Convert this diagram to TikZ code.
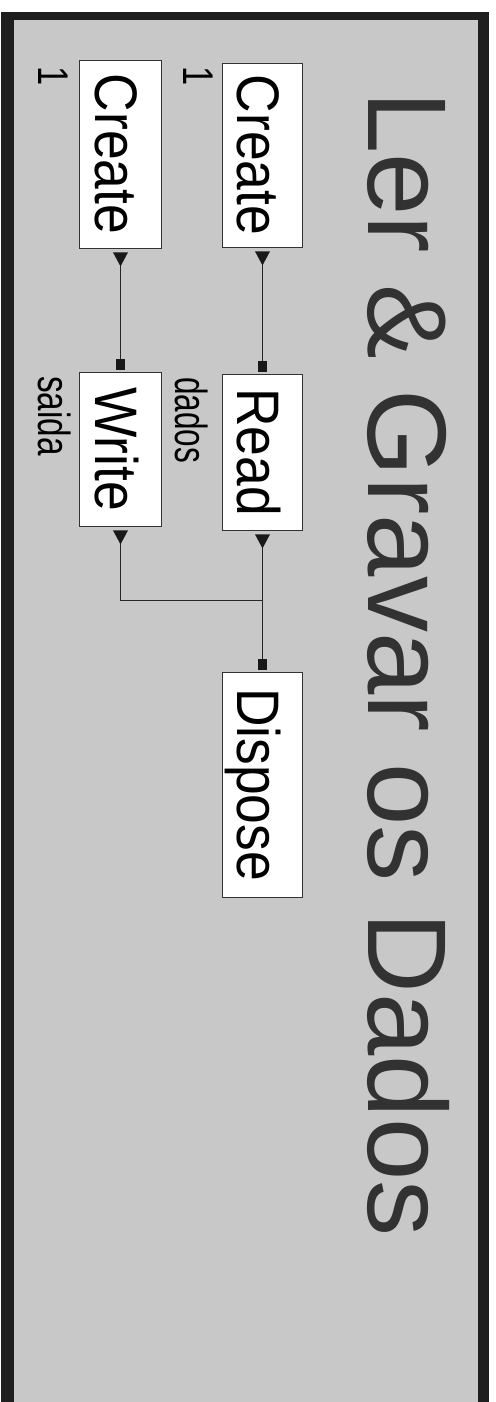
\documentclass[tikz,border=0pt]{standalone}
\usepackage{fontspec}
\usepackage{graphicx}
\setmainfont{Liberation Sans}
\definecolor{bggray}{RGB}{200,200,200}
\definecolor{titlegray}{RGB}{50,50,50}
\newcommand{\boxtxt}[1]{\rotatebox{-90}{\rule{0pt}{50pt}\smash{\scalebox{0.89}[1]{#1}}}}
\begin{document}
\begin{tikzpicture}[x=1pt,y=1pt,
  procbox/.style={draw=black!80, line width=0.8pt, fill=white, inner sep=0pt,
    font=\fontsize{60}{60}\selectfont},
  smalllbl/.style={rotate=-90, anchor=base west, inner sep=0pt,
    font=\fontsize{45}{45}\selectfont},
  conn/.style={draw=black!85, line width=0.9pt},
  tipfill/.style={fill=black!90}
]
\useasboundingbox (0,0) rectangle (495,-1402);
% frame
\fill[white] (0,0) rectangle (495,-1402);
\fill[black!88] (1,-12) rectangle (489,-1402);
\fill[bggray] (14,-20) rectangle (478,-1402);
% title
\node[rotate=-90, anchor=base west, inner sep=0pt, text=titlegray,
  font=\fontsize{112}{112}\selectfont] (title) at (368,-91) {Ler \& Gravar os Dados};
% boxes
\node[procbox, minimum width=82, minimum height=188] (cL) at (120.5,-154) {\boxtxt{Create}};
\node[procbox, minimum width=80, minimum height=184] (cR) at (262.5,-155) {\boxtxt{Create}};
\node[procbox, minimum width=82, minimum height=154] (wr) at (120.5,-449) {\boxtxt{Write}};
\node[procbox, minimum width=80, minimum height=156] (rd) at (262.5,-452) {\boxtxt{Read}};
\node[procbox, minimum width=80, minimum height=225] (dp) at (262.5,-784.5) {\boxtxt{Dispose}};
% small labels
\node[smalllbl, font=\fontsize{43}{43}\selectfont] (oneL) at (38,-66) {\scalebox{0.8}[1]{1}};
\node[smalllbl, font=\fontsize{43}{43}\selectfont] (oneR) at (183,-66) {\scalebox{0.8}[1]{1}};
\node[smalllbl] (saida) at (38,-376) {\scalebox{0.74}[1]{saida}};
\node[smalllbl] (dados) at (175,-377) {\scalebox{0.70}[1]{dados}};
% junction
\coordinate (jn) at (262.5,-600);
% triangles (tails)
\foreach \n in {cL,cR,wr,rd}{
  \fill[tipfill] ([yshift=-4]\n.south) ++(-7.5,0) -- ++(15,0) -- ++(-7.5,-14) -- cycle;
}
% squares (heads)
\foreach \n in {wr,rd,dp}{
  \fill[tipfill] ([yshift=2]\n.north) ++(-4.5,0) rectangle ++(9,11);
}
% connectors
\draw[conn] ([yshift=-18]cL.south) -- ([yshift=13]wr.north);
\draw[conn] ([yshift=-18]cR.south) -- ([yshift=13]rd.north);
\draw[conn] ([yshift=-18]wr.south) |- (jn);
\draw[conn] ([yshift=-18]rd.south) -- ([yshift=13]dp.north);
\end{tikzpicture}
\end{document}
